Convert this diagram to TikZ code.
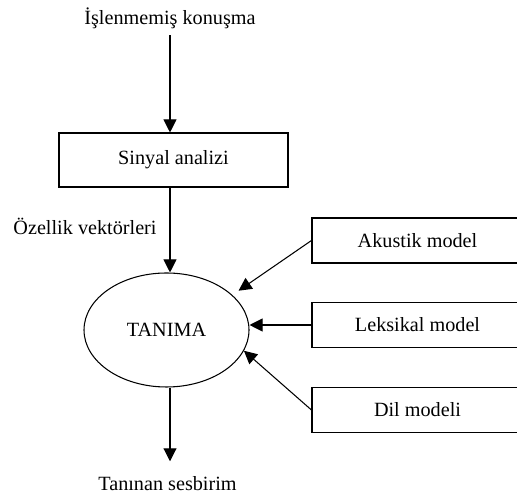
\documentclass[tikz,border=0pt]{standalone}
\usepackage{fontspec}
\setmainfont{Liberation Serif}
\usetikzlibrary{arrows.meta,shapes.geometric}

\tikzset{
  kutu/.style={draw, line width=0.6pt, inner sep=0pt},
  ok/.style={-{Triangle[width=0.26cm,length=0.26cm]}, line width=0.6pt},
}

\begin{document}
\begin{tikzpicture}[font=\fontsize{11.5}{14}\selectfont]

\useasboundingbox (0,0) rectangle (10.34,10);
\clip (0,0) rectangle (10.34,10);

% ana akis
\node[anchor=base] (giris) at (3.40,9.50){İşlenmemiş konuşma};
\node[kutu, minimum width=4.58cm, minimum height=1.08cm] (sinyal) at (3.47,6.80){Sinyal analizi};
\node[anchor=base] (ozellik) at (1.70,5.30){Özellik vektörleri};
\node[draw, ellipse, line width=0.6pt, inner sep=0pt, minimum width=3.30cm, minimum height=2.28cm] (tanima) at (3.33,3.40){TANIMA};
\node[anchor=base] (cikis) at (3.35,0.18){Tanınan sesbirim};

\draw[ok] (giris) -- (giris |- sinyal.north);
\draw[ok] (sinyal.south -| giris) -- (giris |- tanima.north);
\draw[ok, shorten >=0.19cm] (giris |- tanima.south) -- (giris |- cikis.north);

% modeller
\node[kutu, minimum width=4.22cm, minimum height=0.90cm] (akustik) at (8.35,5.19){Akustik model};
\node[kutu, minimum width=4.22cm, minimum height=0.90cm] (leksikal) at (8.35,3.50){Leksikal model};
\node[kutu, minimum width=4.22cm, minimum height=0.90cm] (dil) at (8.35,1.80){Dil modeli};

\draw[ok, shorten >=0.15cm] (akustik.west) -- (tanima.28);
\draw[ok] (leksikal.west) -- (leksikal.west -| tanima.east);
\draw[ok] (dil.west) -- (tanima.-15);

\end{tikzpicture}
\end{document}
